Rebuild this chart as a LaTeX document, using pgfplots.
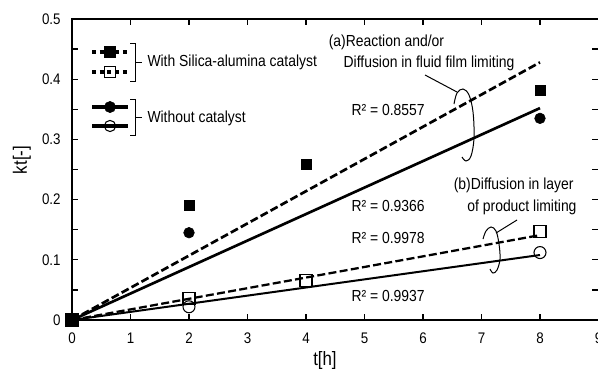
\documentclass[border=0pt]{standalone}
\usepackage{pgfplots}
\pgfplotsset{compat=1.18}
\usepackage{fontspec}
\setmainfont{Liberation Sans}[FakeStretch=0.87]
\begin{document}
\begin{tikzpicture}[font=\fontsize{12}{14}\selectfont]
\begin{axis}[
  at={(54pt,-240pt)}, anchor=south west,
  scale only axis, width=394.875pt, height=225.75pt,
  xmin=0, xmax=9, ymin=0, ymax=0.5,
  xtick={0,1,2,3,4,5,6,7,8,9},
  ytick={0,0.1,0.2,0.3,0.4,0.5},
  yticklabels={0,0.1,0.2,0.3,0.4,0.5},
  minor ytick={0.05,0.15,0.25,0.35,0.45},
  tick align=inside,
  major tick length=4.5pt, minor tick length=4.5pt,
  axis line style={line width=1.2pt},
  every tick/.style={line width=1pt, black},
  every minor tick/.style={line width=1pt, black},
  /pgf/number format/assume math mode=true,
  tick label style={font=\fontsize{11.5}{13}\selectfont},
  yticklabel style={xshift=-5pt},
  xticklabel style={yshift=-6pt},
  xlabel={t[h]}, ylabel={kt[-]},
  every axis x label/.style={at={(rel axis cs:0.4805,0)}, anchor=center, yshift=-30pt, font=\fontsize{14.5}{16}\selectfont},
  every axis y label/.style={at={(rel axis cs:0,0.5316)}, anchor=center, xshift=-37.5pt, rotate=90, font=\fontsize{14.5}{16}\selectfont},
  clip=false,
]
% trend lines
\addplot[black, line width=2pt, dash pattern=on 6pt off 2.5pt] coordinates {(0,0) (8,0.428)};
\addplot[black, line width=2pt] coordinates {(0,0) (8,0.352)};
\addplot[black, line width=1.7pt, dash pattern=on 6pt off 2.5pt] coordinates {(0,0) (8,0.141)};
\addplot[black, line width=1.5pt] coordinates {(0,0) (8,0.108)};
% data
\addplot[only marks, mark=square*, mark size=3.75pt, black] coordinates {(0,0) (2,0.191) (4,0.259) (8,0.382)};
\addplot[only marks, mark=*, mark size=4pt, black] coordinates {(0,0) (2,0.145) (8,0.335)};
\addplot[only marks, mark=square, mark size=4.5pt, black, mark options={fill=white, line width=0.8pt}] coordinates {(0,0) (2,0.036) (4,0.066) (8,0.147)};
\addplot[only marks, mark=o, mark size=4.5pt, black, mark options={fill=white, line width=0.8pt}] coordinates {(0,0) (2,0.022) (8,0.112)};
% legend samples
\addplot[black, line width=3.5pt, dash pattern=on 3pt off 2.8pt, forget plot] coordinates {(0.342,0.4452) (0.957,0.4452)};
\addplot[only marks, mark=square*, mark size=4pt, black, forget plot] coordinates {(0.65,0.4452)};
\addplot[black, line width=3.5pt, dash pattern=on 3pt off 2.8pt, forget plot] coordinates {(0.342,0.412) (0.957,0.412)};
\addplot[only marks, mark=square, mark size=4pt, black, mark options={fill=white, line width=0.8pt}, forget plot] coordinates {(0.65,0.412)};
\addplot[black, line width=3.5pt, forget plot] coordinates {(0.342,0.3538) (0.957,0.3538)};
\addplot[only marks, mark=*, mark size=4.2pt, black, forget plot] coordinates {(0.65,0.3538)};
\addplot[black, line width=3.5pt, forget plot] coordinates {(0.342,0.3223) (0.957,0.3223)};
\addplot[only marks, mark=o, mark size=4.2pt, black, mark options={fill=white, line width=0.8pt}, forget plot] coordinates {(0.65,0.3223)};
\end{axis}
\begin{scope}[x=0.75pt, y=-0.75pt, line width=0.75pt]
  % legend brackets and text
  \draw (130,43) -- (135,43) -- (135,81) -- (130,81);
  \draw (135,62) -- (142,62);
  \node[anchor=west, inner sep=0pt] at (147,62) {With Silica-alumina catalyst};
  \draw (130,99) -- (135,99) -- (135,135) -- (130,135);
  \draw (135,117) -- (142,117);
  \node[anchor=west, inner sep=0pt] at (147,118) {Without catalyst};
  % annotation (a)
  \node[inner sep=0pt] at (386.5,42) {(a)Reaction and/or};
  \node[inner sep=0pt] at (429,63) {Diffusion in fluid film limiting};
  \draw (425,75) -- (457,92);
  \draw plot[smooth, tension=0.6] coordinates {(454,104) (457,93) (463,89) (469,95) (473,112) (474,138) (471,156) (466,161) (462,157)};
  % annotation (b)
  \node[anchor=east, inner sep=0pt] at (574,185) {(b)Diffusion in layer};
  \node[anchor=east, inner sep=0pt] at (577,207) {of product limiting};
  \draw (517,220) -- (496,233);
  \draw plot[smooth, tension=0.6] coordinates {(483,239) (486,231) (491,227) (496,231) (499,244) (500,259) (497,270) (493,273) (490,269)};
  % R^2 labels
  \node[anchor=west, inner sep=0pt] at (351,110) {R² = 0.8557};
  \node[anchor=west, inner sep=0pt] at (351,206) {R² = 0.9366};
  \node[anchor=west, inner sep=0pt] at (351,238) {R² = 0.9978};
  \node[anchor=west, inner sep=0pt] at (351,296) {R² = 0.9937};
\end{scope}
\pgfresetboundingbox
\path[use as bounding box] (0,0) rectangle (448.5pt,-282pt);
\end{tikzpicture}
\end{document}
